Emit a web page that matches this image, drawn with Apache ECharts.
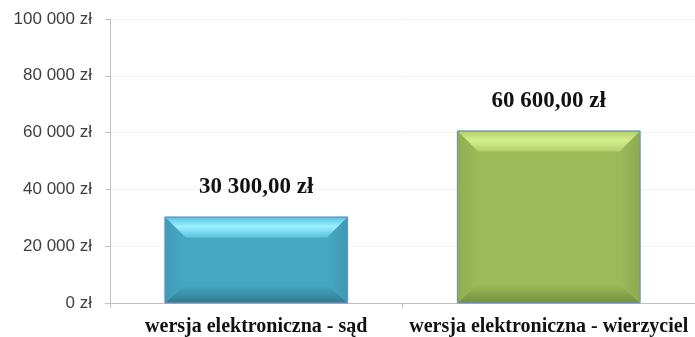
<!DOCTYPE html>
<html>
<head>
<meta charset="utf-8">
<script src="https://cdn.jsdelivr.net/npm/echarts@6/dist/echarts.min.js"></script>
<style>
  html, body { margin: 0; padding: 0; background: #ffffff; }
  #chart { width: 695px; height: 337px; }
</style>
</head>
<body>
<div id="chart"></div>
<script>
// Kategorie i kwoty opłat
const categories = ['wersja elektroniczna - sąd', 'wersja elektroniczna - wierzyciel'];
const amounts = [30300, 60600];
const yTicks = [0, 20000, 40000, 60000, 80000, 100000];

// Kolory fazowanych słupków
const palettes = [
  { face: '#48a8c4', topLight: '#9af0ff', topDark: '#5cc4dc', left: '#3f9cb7', right: '#3e99b3', bottom: '#317c93' },
  { face: '#9bbb59', topLight: '#d4f08e', topDark: '#b2d06a', left: '#8fae50', right: '#8dab4e', bottom: '#75913f' }
];

function fmtThousands(v) {
  return String(Math.round(v)).replace(/\B(?=(\d{3})+(?!\d))/g, '\u00a0');
}
function fmtMoney(v) {
  return fmtThousands(v) + ',00 zł';
}

const BAR_RATIO = 0.625;
const BEVEL = 20;

const chart = echarts.init(document.getElementById('chart'), null, { renderer: 'canvas' });

chart.setOption({
  animation: false,
  grid: { left: 110, right: 0, top: 19, bottom: 34, containLabel: false },
  xAxis: {
    type: 'category',
    data: categories,
    axisLine: { lineStyle: { color: '#bfbfbf', width: 1 } },
    axisTick: { show: true, alignWithLabel: false, length: 5, lineStyle: { color: '#bfbfbf' } },
    axisLabel: {
      interval: 0,
      hideOverlap: false,
      margin: 14,
      color: '#111111',
      fontFamily: '"Liberation Serif", "Times New Roman", serif',
      fontWeight: 'bold',
      fontSize: 20
    }
  },
  yAxis: {
    type: 'value',
    min: yTicks[0],
    max: yTicks[yTicks.length - 1],
    interval: yTicks[1] - yTicks[0],
    axisLine: { show: true, lineStyle: { color: '#bfbfbf' } },
    axisTick: { show: true, length: 5, lineStyle: { color: '#bfbfbf' } },
    splitLine: { show: true, lineStyle: { color: '#f2f2f2' } },
    axisLabel: {
      margin: 18,
      color: '#404040',
      fontFamily: '"Liberation Sans", Arial, sans-serif',
      fontSize: 17,
      formatter: v => fmtThousands(v) + ' zł'
    }
  },
  series: [
    {
      type: 'bar',
      data: amounts.map((v, i) => ({ value: v, itemStyle: { color: palettes[i].face } })),
      barWidth: (BAR_RATIO * 100) + '%',
      itemStyle: { borderColor: '#6a8fbf', borderWidth: 1 },
      label: {
        show: true,
        position: 'top',
        distance: 18,
        color: '#111111',
        fontFamily: '"Liberation Serif", "Times New Roman", serif',
        fontWeight: 'bold',
        fontSize: 23,
        formatter: p => fmtMoney(p.value)
      },
      z: 2
    },
    {
      // Fazowane krawędzie rysowane na słupkach
      type: 'custom',
      data: amounts.map((v, i) => [i, v]),
      z: 3,
      silent: true,
      renderItem: function (params, api) {
        const idx = api.value(0);
        const top = api.coord([idx, api.value(1)]);
        const base = api.coord([idx, 0]);
        const band = api.size([1, 0])[0];
        const w = band * BAR_RATIO;
        const x0 = top[0] - w / 2 + 0.5, x1 = top[0] + w / 2 - 0.5;
        const y0 = top[1] + 0.5, y1 = base[1] - 0.5;
        const b = Math.min(BEVEL, (y1 - y0) / 3);
        const p = palettes[idx];
        return {
          type: 'group',
          children: [
            { type: 'polygon', shape: { points: [[x0, y0], [x1, y0], [x1 - BEVEL, y0 + b], [x0 + BEVEL, y0 + b]] },
              style: { fill: new echarts.graphic.LinearGradient(0, 0, 0, 1, [
                { offset: 0, color: p.topDark }, { offset: 0.45, color: p.topLight }, { offset: 1, color: p.topDark }]) } },
            { type: 'polygon', shape: { points: [[x0, y1], [x1, y1], [x1 - BEVEL, y1 - b * 0.9], [x0 + BEVEL, y1 - b * 0.9]] },
              style: { fill: new echarts.graphic.LinearGradient(0, 0, 0, 1, [
                { offset: 0, color: p.face }, { offset: 1, color: p.bottom }]) } },
            { type: 'polygon', shape: { points: [[x0, y0], [x0 + BEVEL, y0 + b], [x0 + BEVEL, y1 - b * 0.9], [x0, y1]] },
              style: { fill: new echarts.graphic.LinearGradient(0, 0, 1, 0, [
                { offset: 0, color: p.left }, { offset: 1, color: p.face }]) } },
            { type: 'polygon', shape: { points: [[x1, y0], [x1 - BEVEL, y0 + b], [x1 - BEVEL, y1 - b * 0.9], [x1, y1]] },
              style: { fill: new echarts.graphic.LinearGradient(1, 0, 0, 0, [
                { offset: 0, color: p.right }, { offset: 1, color: p.face }]) } },
            { type: 'rect', shape: { x: x0 - 0.5, y: y0 - 0.5, width: x1 - x0 + 1, height: y1 - y0 + 1 },
              style: { fill: 'none', stroke: '#6a8fbf', lineWidth: 1 } }
          ]
        };
      }
    }
  ]
});
</script>
</body>
</html>
